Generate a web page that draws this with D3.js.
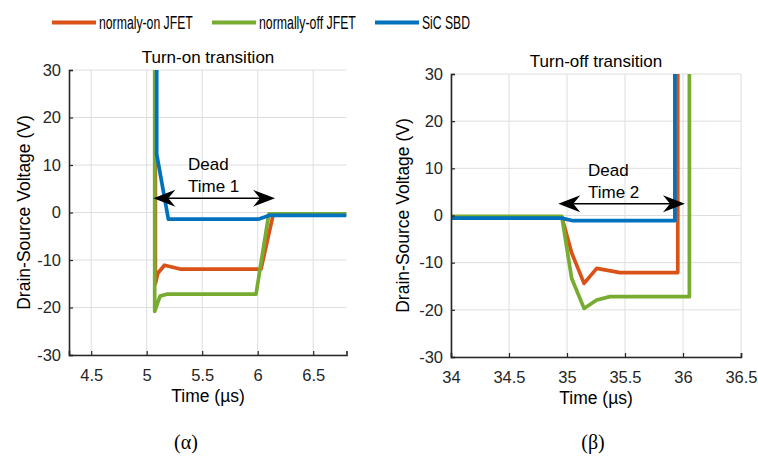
<!DOCTYPE html>
<html>
<head>
<meta charset="utf-8">
<script src="https://cdn.jsdelivr.net/npm/d3@7"></script>
<style>
  body { margin: 0; background: #fff; }
  svg { font-family: "Liberation Sans", Arial, Helvetica, sans-serif; }
</style>
</head>
<body>
<svg id="chart" width="758" height="456"></svg>
<script>
// series names / colours (MATLAB default order)
const seriesNames = ["normaly-on JFET", "normally-off JFET", "SiC SBD"];
const seriesColors = ["#D95319", "#77AC30", "#0072BD"];

// turn-on transition, [time us, voltage V]
const onNormOn  = [[5.078, 30], [5.078, -15], [5.10, -12.8], [5.16, -11.1], [5.30, -11.9], [6.03, -11.9], [6.14, -0.4], [6.8, -0.4]];
const onNormOff = [[5.072, 30], [5.072, -20.8], [5.12, -17.6], [5.18, -17.2], [5.985, -17.2], [6.10, -0.3], [6.8, -0.3]];
const onSbd     = [[5.09, 30], [5.09, 12.3], [5.195, -1.4], [6.005, -1.4], [6.11, -0.6], [6.8, -0.6]];

// turn-off transition
const offNormOn  = [[34, -0.3], [34.955, -0.3], [35.04, -7.9], [35.147, -14.4], [35.256, -11.2], [35.457, -12.1], [35.955, -12.1], [35.955, 30]];
const offNormOff = [[34, -0.2], [34.955, -0.2], [35.04, -13.3], [35.147, -19.7], [35.256, -17.9], [35.37, -17.2], [36.055, -17.2], [36.055, 30]];
const offSbd     = [[34, -0.55], [34.954, -0.55], [35.05, -1.1], [35.93, -1.1], [35.93, 30]];

const yTicks = [-30, -20, -10, 0, 10, 20, 30];
const onXTicks = [4.5, 5, 5.5, 6, 6.5];
const offXTicks = [34, 34.5, 35, 35.5, 36, 36.5];

const svg = d3.select("#chart");
const axisColor = "#262626";
const gridColor = "#dedede";
const sans = '"Liberation Sans", Arial, Helvetica, sans-serif';

// legend (text in the source is horizontally squeezed)
const legendX = [52, 212, 375];
const legendW = [94, 97, 48];
const legend = svg.append("g");
seriesNames.forEach((name, i) => {
  legend.append("line")
    .attr("x1", legendX[i]).attr("x2", legendX[i] + 44)
    .attr("y1", 22.5).attr("y2", 22.5)
    .attr("stroke", seriesColors[i]).attr("stroke-width", 4);
  const t = legend.append("text")
    .style("font-family", sans).style("font-size", "18px")
    .attr("fill", "#000")
    .text(name);
  const k = legendW[i] / t.node().getComputedTextLength();
  t.attr("transform", `translate(${legendX[i] + 47},29) scale(${k},1)`);
});

function arrowHead(g, x, y, dir) {
  const L = 22, W = 8.5, N = 15;
  g.append("path")
    .attr("d", `M${x},${y} L${x + dir * L},${y - W} L${x + dir * N},${y} L${x + dir * L},${y + W} Z`)
    .attr("fill", "#000");
}

function drawPanel(opt) {
  const x = d3.scaleLinear().domain(opt.xDomain).range(opt.xRange);
  const y = d3.scaleLinear().domain([-30, 30]).range(opt.yRange);
  const g = svg.append("g");
  const [x0, x1] = opt.xRange;
  const [y0, y1] = opt.yRange;

  // grid
  g.selectAll(".gx").data(opt.xTicks).enter().append("line")
    .attr("x1", d => x(d)).attr("x2", d => x(d))
    .attr("y1", y0).attr("y2", y1)
    .attr("stroke", gridColor).attr("stroke-width", 1);
  g.selectAll(".gy").data(yTicks).enter().append("line")
    .attr("x1", x0).attr("x2", x1)
    .attr("y1", d => y(d)).attr("y2", d => y(d))
    .attr("stroke", gridColor).attr("stroke-width", 1);

  // data lines
  const clipId = "clip" + opt.id;
  g.append("clipPath").attr("id", clipId).append("rect")
    .attr("x", x0).attr("y", y1 - 2).attr("width", x1 - x0).attr("height", y0 - y1 + 2);
  const line = d3.line().x(d => x(d[0])).y(d => y(d[1]));
  g.append("g").attr("clip-path", `url(#${clipId})`)
    .selectAll("path").data(opt.series).enter().append("path")
    .attr("d", d => line(d))
    .attr("fill", "none")
    .attr("stroke", (d, i) => seriesColors[i])
    .attr("stroke-width", 3.7)
    .attr("stroke-linejoin", "round");

  // axes
  const fmt = d => String(d);
  const ax = g.append("g").attr("transform", `translate(0,${y0})`)
    .call(d3.axisBottom(x).tickValues(opt.xTicks).tickSize(-4).tickPadding(10).tickFormat(fmt));
  const ay = g.append("g").attr("transform", `translate(${x0},0)`)
    .call(d3.axisLeft(y).tickValues(yTicks).tickSize(-4).tickPadding(8).tickFormat(fmt));
  [ax, ay].forEach(a => {
    a.select(".domain").attr("stroke", axisColor).attr("stroke-width", 1.6);
    a.selectAll(".tick line").attr("stroke", axisColor).attr("stroke-width", 1.2);
    a.selectAll("text").style("font-size", "16.5px").style("font-family", sans).attr("fill", axisColor);
  });
  ax.selectAll("text").attr("dy", "0.95em");

  // titles
  g.append("text").attr("x", opt.titleX).attr("y", y1 - 7)
    .attr("text-anchor", "middle").style("font-size", "17px").attr("fill", "#000")
    .text(opt.title);
  g.append("text").attr("x", opt.titleX).attr("y", y0 + 47)
    .attr("text-anchor", "middle").style("font-size", "17.5px").attr("fill", "#000")
    .text("Time (µs)");
  g.append("text")
    .attr("transform", `translate(${opt.yLabelX},${(y0 + y1) / 2}) rotate(-90)`)
    .attr("text-anchor", "middle").style("font-size", "17.5px").attr("fill", "#000")
    .text("Drain-Source Voltage (V)");
  g.append("text").attr("x", opt.capX).attr("y", 449)
    .attr("text-anchor", "middle").style("font-size", "20px")
    .style("font-family", '"Liberation Serif", "Times New Roman", serif').attr("fill", "#000")
    .text(opt.caption);

  // dead-time annotation
  const ay0 = y(opt.arrow[2]);
  const ax0 = x(opt.arrow[0]), ax1 = x(opt.arrow[1]);
  g.append("line").attr("x1", ax0 + 15).attr("x2", ax1 - 15)
    .attr("y1", ay0).attr("y2", ay0).attr("stroke", "#000").attr("stroke-width", 1.5);
  arrowHead(g, ax0, ay0, 1);
  arrowHead(g, ax1, ay0, -1);
  opt.label.forEach((s, i) => {
    g.append("text").attr("x", x(opt.labelPos[0])).attr("y", y(opt.labelPos[1 + i]))
      .style("font-size", "17px").attr("fill", "#000").text(s);
  });
}

drawPanel({
  id: "on", xDomain: [4.3, 6.8], xRange: [69, 346.5], yRange: [355, 70],
  xTicks: onXTicks, series: [onNormOn, onNormOff, onSbd],
  title: "Turn-on transition", titleX: 208, yLabelX: 29.5, capX: 186, caption: "(α)",
  arrow: [5.06, 6.156, 3.0], label: ["Dead", "Time 1"], labelPos: [5.372, 8.95, 4.4]
});
drawPanel({
  id: "off", xDomain: [34, 36.5], xRange: [451, 741], yRange: [357, 74],
  xTicks: offXTicks, series: [offNormOn, offNormOff, offSbd],
  title: "Turn-off transition", titleX: 596, yLabelX: 409, capX: 593, caption: "(β)",
  arrow: [34.925, 36.017, 2.5], label: ["Dead", "Time 2"], labelPos: [35.181, 8.3, 3.76]
});
</script>
</body>
</html>
